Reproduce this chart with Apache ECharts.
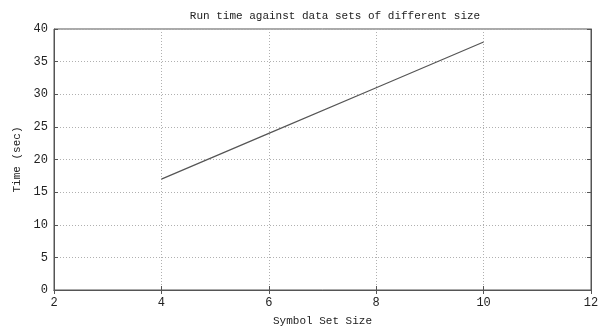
<!DOCTYPE html>
<html>
<head>
<meta charset="utf-8">
<script src="https://cdn.jsdelivr.net/npm/echarts@6/dist/echarts.min.js"></script>
<style>
  html, body { margin: 0; padding: 0; background: #fff; }
  #chart { width: 603px; height: 332px; }
</style>
</head>
<body>
<div id="chart"></div>
<script>
// data
var symbolSetSize = [4, 6, 8, 10];
var runTime = [17, 24, 31, 38];

var xTicks = [2, 4, 6, 8, 10, 12];
var yTicks = [0, 5, 10, 15, 20, 25, 30, 35, 40];

var chart = echarts.init(document.getElementById('chart'));

var font = 'Liberation Mono, DejaVu Sans Mono, monospace';
var frameColor = '#555';
var gridColor = '#b0b0b0';

var option = {
    animation: false,
    title: {
        text: 'Run time against data sets of different size',
        left: 330,
        top: 6,
        textAlign: 'center',
        textStyle: {
            fontFamily: font,
            fontWeight: 'normal',
            fontSize: 11,
            color: '#222'
        }
    },
    grid: {
        left: 54,
        right: 12,
        top: 29,
        bottom: 40,
        show: true,
        borderColor: frameColor,
        borderWidth: 1
    },
    xAxis: [
        {
            type: 'value',
            min: xTicks[0],
            max: xTicks[xTicks.length - 1],
            interval: 2,
            name: 'Symbol Set Size',
            nameLocation: 'middle',
            nameGap: 26,
            nameTextStyle: { fontFamily: font, fontSize: 11, color: '#222' },
            axisLine: { lineStyle: { color: frameColor } },
            axisTick: { inside: true, length: 4, lineStyle: { color: frameColor } },
            axisLabel: { fontFamily: font, fontSize: 12, color: '#222', margin: 7 },
            splitLine: { show: true, lineStyle: { type: [1, 2], color: gridColor } }
        },
        {
            type: 'value',
            position: 'top',
            min: xTicks[0],
            max: xTicks[xTicks.length - 1],
            interval: 2,
            axisLine: { show: true, lineStyle: { color: frameColor } },
            axisTick: { show: true, inside: true, length: 4, lineStyle: { color: frameColor } },
            axisLabel: { show: false },
            splitLine: { show: false }
        }
    ],
    yAxis: [
        {
            type: 'value',
            min: yTicks[0],
            max: yTicks[yTicks.length - 1],
            interval: 5,
            name: 'Time (sec)',
            nameLocation: 'middle',
            nameGap: 31,
            nameTextStyle: { fontFamily: font, fontSize: 11, color: '#222' },
            axisLine: { show: true, lineStyle: { color: frameColor } },
            axisTick: { show: true, inside: true, length: 4, lineStyle: { color: frameColor } },
            axisLabel: { fontFamily: font, fontSize: 12, color: '#222', margin: 6 },
            splitLine: { show: true, lineStyle: { type: [1, 2], color: gridColor } }
        },
        {
            type: 'value',
            position: 'right',
            min: yTicks[0],
            max: yTicks[yTicks.length - 1],
            interval: 5,
            axisLine: { show: true, lineStyle: { color: frameColor } },
            axisTick: { show: true, inside: true, length: 4, lineStyle: { color: frameColor } },
            axisLabel: { show: false },
            splitLine: { show: false }
        }
    ],
    series: [
        {
            type: 'line',
            data: symbolSetSize.map(function (x, i) { return [x, runTime[i]]; }),
            showSymbol: false,
            lineStyle: { color: '#555', width: 1.2 },
            itemStyle: { color: '#555' }
        }
    ]
};

chart.setOption(option);
</script>
</body>
</html>
